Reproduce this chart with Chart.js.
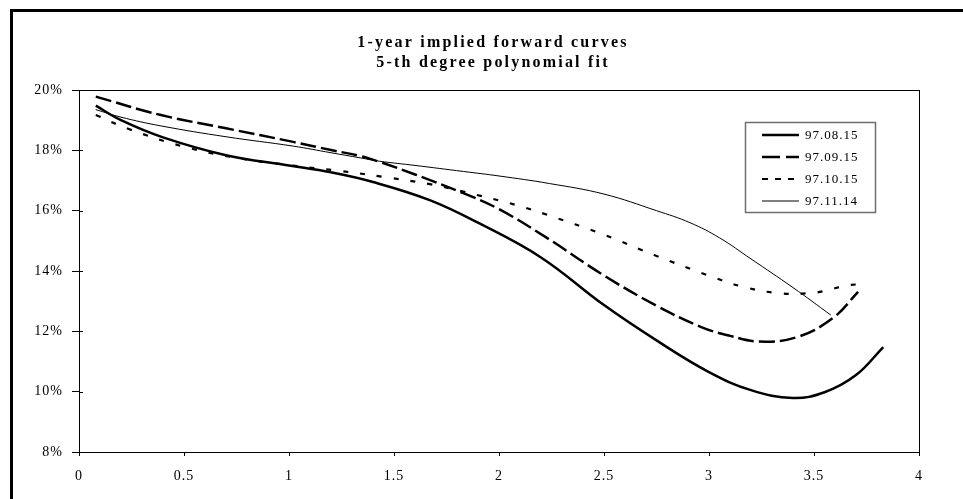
<!DOCTYPE html>
<html><head><meta charset="utf-8">
<script src="https://cdn.jsdelivr.net/npm/chart.js@4.4.1/dist/chart.umd.min.js"></script>
<style>html,body{margin:0;padding:0;background:#fff;overflow:hidden}canvas{display:block}</style>
</head><body>
<canvas id="c" width="963" height="499"></canvas>
<script>
const TITLE_LINES = ['1-year implied forward curves', '5-th degree polynomial fit'];
const SERIES_NAMES = ['97.08.15', '97.09.15', '97.10.15', '97.11.14'];

const X_0815 = [0.08, 0.2, 0.4, 0.7, 1.0, 1.2, 1.4, 1.67, 1.9, 2.2, 2.5, 2.75, 3.0, 3.2, 3.4, 3.55, 3.7, 3.83];
const Y_0815 = [19.48, 19.0, 18.43, 17.84, 17.5, 17.27, 16.95, 16.35, 15.6, 14.45, 12.87, 11.7, 10.65, 10.05, 9.79, 9.98, 10.55, 11.48];

const X_0915 = [0.08, 0.39, 0.7, 1.02, 1.2, 1.34, 1.43, 1.6, 1.83, 2.0, 2.23, 2.5, 2.75, 2.96, 3.1, 3.24, 3.42, 3.59, 3.71];
const Y_0915 = [19.78, 19.17, 18.73, 18.28, 18.01, 17.81, 17.62, 17.2, 16.58, 16.05, 15.09, 13.85, 12.85, 12.15, 11.85, 11.66, 11.81, 12.44, 13.31];

const X_1015 = [0.08, 0.24, 0.5, 0.76, 1.0, 1.24, 1.45, 1.67, 1.83, 2.08, 2.23, 2.5, 2.75, 2.99, 3.16, 3.34, 3.5, 3.58, 3.66, 3.75];
const Y_1015 = [19.17, 18.70, 18.12, 17.74, 17.51, 17.32, 17.12, 16.88, 16.63, 16.19, 15.86, 15.2, 14.5, 13.87, 13.48, 13.26, 13.28, 13.39, 13.53, 13.56];

const X_1114 = [0.08, 0.2, 0.39, 0.7, 1.02, 1.2, 1.34, 1.43, 1.6, 1.83, 2.0, 2.24, 2.5, 2.75, 2.91, 3.05, 3.2, 3.4, 3.58];
const Y_1114 = [19.35, 19.1, 18.81, 18.45, 18.14, 17.92, 17.75, 17.64, 17.5, 17.3, 17.15, 16.9, 16.55, 16.0, 15.6, 15.1, 14.4, 13.45, 12.54];

const X_TICKS = [0, 0.5, 1, 1.5, 2, 2.5, 3, 3.5, 4];
const Y_TICKS = [8, 10, 12, 14, 16, 18, 20];

const FONT = 'Liberation Serif, Times New Roman, serif';
const pts = (xs, ys) => xs.map((x, i) => ({x: x, y: ys[i]}));

const STYLES = [
  {borderWidth: 2.5, borderDash: []},
  {borderWidth: 2.5, borderDash: [16, 5]},
  {borderWidth: 2.2, borderDash: [5, 12]},
  {borderWidth: 1, borderDash: []}
];
const SERIES = [[X_0815, Y_0815], [X_0915, Y_0915], [X_1015, Y_1015], [X_1114, Y_1114]];

const datasets = SERIES.map((s, i) => ({
  label: SERIES_NAMES[i],
  data: pts(s[0], s[1]),
  borderColor: '#000',
  backgroundColor: '#000',
  borderWidth: STYLES[i].borderWidth,
  borderDash: STYLES[i].borderDash,
  pointRadius: 0,
  tension: 0.4,
  fill: false
}));

const decor = {
  id: 'decor',
  beforeDraw(chart) {
    chart.ctx.letterSpacing = '1px';
  },
  afterDraw(chart) {
    const ctx = chart.ctx;
    const a = chart.chartArea;
    ctx.save();
    // outer frame
    ctx.letterSpacing = '0px';
    ctx.strokeStyle = '#000';
    ctx.lineWidth = 3;
    ctx.beginPath();
    ctx.moveTo(11.5, 1200);
    ctx.lineTo(11.5, 10.5);
    ctx.lineTo(1200, 10.5);
    ctx.stroke();
    // plot area box
    ctx.lineWidth = 1;
    ctx.strokeRect(Math.round(a.left) + 0.5, Math.round(a.top) + 0.5, Math.round(a.right - a.left), Math.round(a.bottom - a.top));
    // inner y tick crosses
    const ys = chart.scales.y;
    ctx.beginPath();
    Y_TICKS.forEach(v => {
      const y = Math.round(ys.getPixelForValue(v)) + 0.5;
      ctx.moveTo(a.left, y); ctx.lineTo(a.left + 4, y);
    });
    ctx.stroke();
    // title
    ctx.fillStyle = '#000';
    ctx.font = 'bold 16px ' + FONT;
    ctx.letterSpacing = '2.2px';
    ctx.textAlign = 'center';
    ctx.textBaseline = 'middle';
    ctx.fillText(TITLE_LINES[0], 493, 43);
    ctx.fillText(TITLE_LINES[1], 493, 63);
    // legend
    ctx.letterSpacing = '1px';
    const lx = 745, ly = 122, lw = 130, lh = 90;
    ctx.fillStyle = '#fff';
    ctx.fillRect(lx, ly, lw, lh);
    ctx.strokeStyle = '#6e6e6e';
    ctx.lineWidth = 1.5;
    ctx.strokeRect(lx + 0.5, ly + 0.5, lw, lh);
    ctx.font = '13px ' + FONT;
    ctx.textAlign = 'left';
    chart.data.datasets.forEach((ds, i) => {
      const y = 135 + i * 22;
      ctx.strokeStyle = '#000';
      ctx.lineWidth = ds.borderWidth;
      ctx.setLineDash(ds.borderDash.length ? (i === 1 ? [18, 6] : [6, 7]) : []);
      ctx.beginPath();
      ctx.moveTo(762, y); ctx.lineTo(799, y);
      ctx.stroke();
      ctx.setLineDash([]);
      ctx.fillStyle = '#000';
      ctx.fillText(ds.label, 805, y + 1);
    });
    ctx.restore();
  }
};

new Chart(document.getElementById('c'), {
  type: 'line',
  data: {datasets: datasets},
  plugins: [decor],
  options: {
    responsive: false,
    animation: false,
    devicePixelRatio: 1,
    layout: {padding: {left: 0, right: 44, top: 90, bottom: 0}},
    plugins: {legend: {display: false}, title: {display: false}, tooltip: {enabled: false}},
    scales: {
      x: {
        type: 'linear',
        min: X_TICKS[0], max: X_TICKS[X_TICKS.length - 1],
        afterBuildTicks: s => { s.ticks = X_TICKS.map(v => ({value: v})); },
        ticks: {color: '#000', font: {family: FONT, size: 14}, padding: 12, maxRotation: 0, autoSkip: false,
          callback: v => String(v)},
        grid: {display: true, drawOnChartArea: false, drawTicks: true, tickLength: 4, color: '#000'},
        border: {display: true, color: '#000', width: 1},
        afterFit: s => { s.height = 47; }
      },
      y: {
        type: 'linear',
        min: Y_TICKS[0], max: Y_TICKS[Y_TICKS.length - 1],
        afterBuildTicks: s => { s.ticks = Y_TICKS.map(v => ({value: v})); },
        ticks: {color: '#000', font: {family: FONT, size: 14}, padding: 9, autoSkip: false,
          callback: v => v + '%'},
        grid: {display: true, drawOnChartArea: false, drawTicks: true, tickLength: 7, color: '#000'},
        border: {display: true, color: '#000', width: 1},
        afterFit: s => { s.width = 79; }
      }
    }
  }
});
</script>
</body></html>
